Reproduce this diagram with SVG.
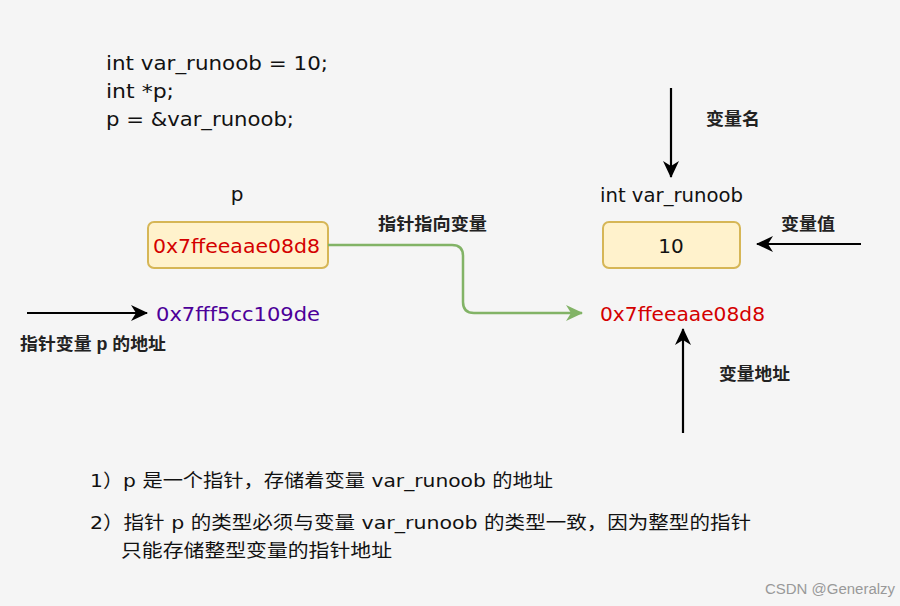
<svg xmlns="http://www.w3.org/2000/svg" width="900" height="606" viewBox="0 0 900 606">
<style>
.code{font-family:"DejaVu Sans","Liberation Sans",sans-serif;font-size:20px;fill:#111}
.lbl{font-family:"Liberation Sans","Noto Sans CJK SC",sans-serif;font-size:17.5px;font-weight:bold;fill:#222}
.note{font-family:"DejaVu Sans","Noto Sans CJK SC",sans-serif;font-size:18.5px;fill:#111}
.addr{font-family:"DejaVu Sans",sans-serif;font-size:19px}
.box{fill:#fff2cc;stroke:#d6b656;stroke-width:2}
.blk{stroke:#000;stroke-width:2.2;fill:none}
</style>
<defs>
<marker id="ab" markerWidth="18" markerHeight="16" refX="16" refY="8" orient="auto" markerUnits="userSpaceOnUse">
<path d="M0,0 L17,8 L0,16 L5,8 Z" fill="#000"/>
</marker>
<marker id="ag" markerWidth="18" markerHeight="16" refX="16" refY="8" orient="auto" markerUnits="userSpaceOnUse">
<path d="M0,0 L17,8 L0,16 L5,8 Z" fill="#82b366"/>
</marker>
</defs>
<rect width="900" height="606" fill="#f5f5f5"/>
<g id="code">
<text class="code" x="106" y="70" textLength="222" lengthAdjust="spacingAndGlyphs">int var_runoob = 10;</text>
<text class="code" x="106" y="98" textLength="68" lengthAdjust="spacingAndGlyphs">int *p;</text>
<text class="code" x="106" y="126" textLength="188" lengthAdjust="spacingAndGlyphs">p = &amp;var_runoob;</text>
</g>
<g id="node-p">
<text class="code" x="237" y="201" text-anchor="middle">p</text>
<rect class="box" x="148" y="222" width="180" height="46" rx="6"/>
<text class="addr" x="153" y="253" textLength="167" lengthAdjust="spacingAndGlyphs" fill="#d40000">0x7ffeeaae08d8</text>
</g>
<g id="node-paddr">
<text class="addr" x="156" y="321" textLength="164" lengthAdjust="spacingAndGlyphs" fill="#4c0099">0x7fff5cc109de</text>
<text class="lbl" x="20" y="350" textLength="146" lengthAdjust="spacingAndGlyphs">指针变量 p 的地址</text>
</g>
<g id="node-var">
<text class="code" x="600" y="202" textLength="143" lengthAdjust="spacingAndGlyphs">int var_runoob</text>
<rect class="box" x="603" y="222" width="137" height="46" rx="6"/>
<text class="code" x="671" y="253" text-anchor="middle">10</text>
</g>
<g id="node-varaddr">
<text class="addr" x="600" y="321" textLength="165" lengthAdjust="spacingAndGlyphs" fill="#d40000">0x7ffeeaae08d8</text>
</g>
<g id="labels">
<text class="lbl" x="378" y="230" textLength="109" lengthAdjust="spacingAndGlyphs">指针指向变量</text>
<text class="lbl" x="706" y="125" textLength="54" lengthAdjust="spacingAndGlyphs">变量名</text>
<text class="lbl" x="781" y="230" textLength="54" lengthAdjust="spacingAndGlyphs">变量值</text>
<text class="lbl" x="719" y="380" textLength="71" lengthAdjust="spacingAndGlyphs">变量地址</text>
</g>
<g id="connectors">
<path d="M328,245 H452 Q463,245 463,256 V302 Q463,313 474,313 H582" fill="none" stroke="#82b366" stroke-width="2.5" marker-end="url(#ag)"/>
<path class="blk" d="M27,313 H147" marker-end="url(#ab)"/>
<path class="blk" d="M671,88 V177" marker-end="url(#ab)"/>
<path class="blk" d="M861,244 H757" marker-end="url(#ab)"/>
<path class="blk" d="M683,433 V329" marker-end="url(#ab)"/>
</g>
<g id="notes">
<text class="note" x="90" y="487" textLength="463" lengthAdjust="spacingAndGlyphs">1）p 是一个指针，存储着变量 var_runoob 的地址</text>
<text class="note" x="90" y="529" textLength="661" lengthAdjust="spacingAndGlyphs">2）指针 p 的类型必须与变量 var_runoob 的类型一致，因为整型的指针</text>
<text class="note" x="121" y="557" textLength="271" lengthAdjust="spacingAndGlyphs">只能存储整型变量的指针地址</text>
</g>
<text x="765" y="594" textLength="130" lengthAdjust="spacingAndGlyphs" font-family="Liberation Sans,sans-serif" font-size="14" fill="#999">CSDN @Generalzy</text>
</svg>
